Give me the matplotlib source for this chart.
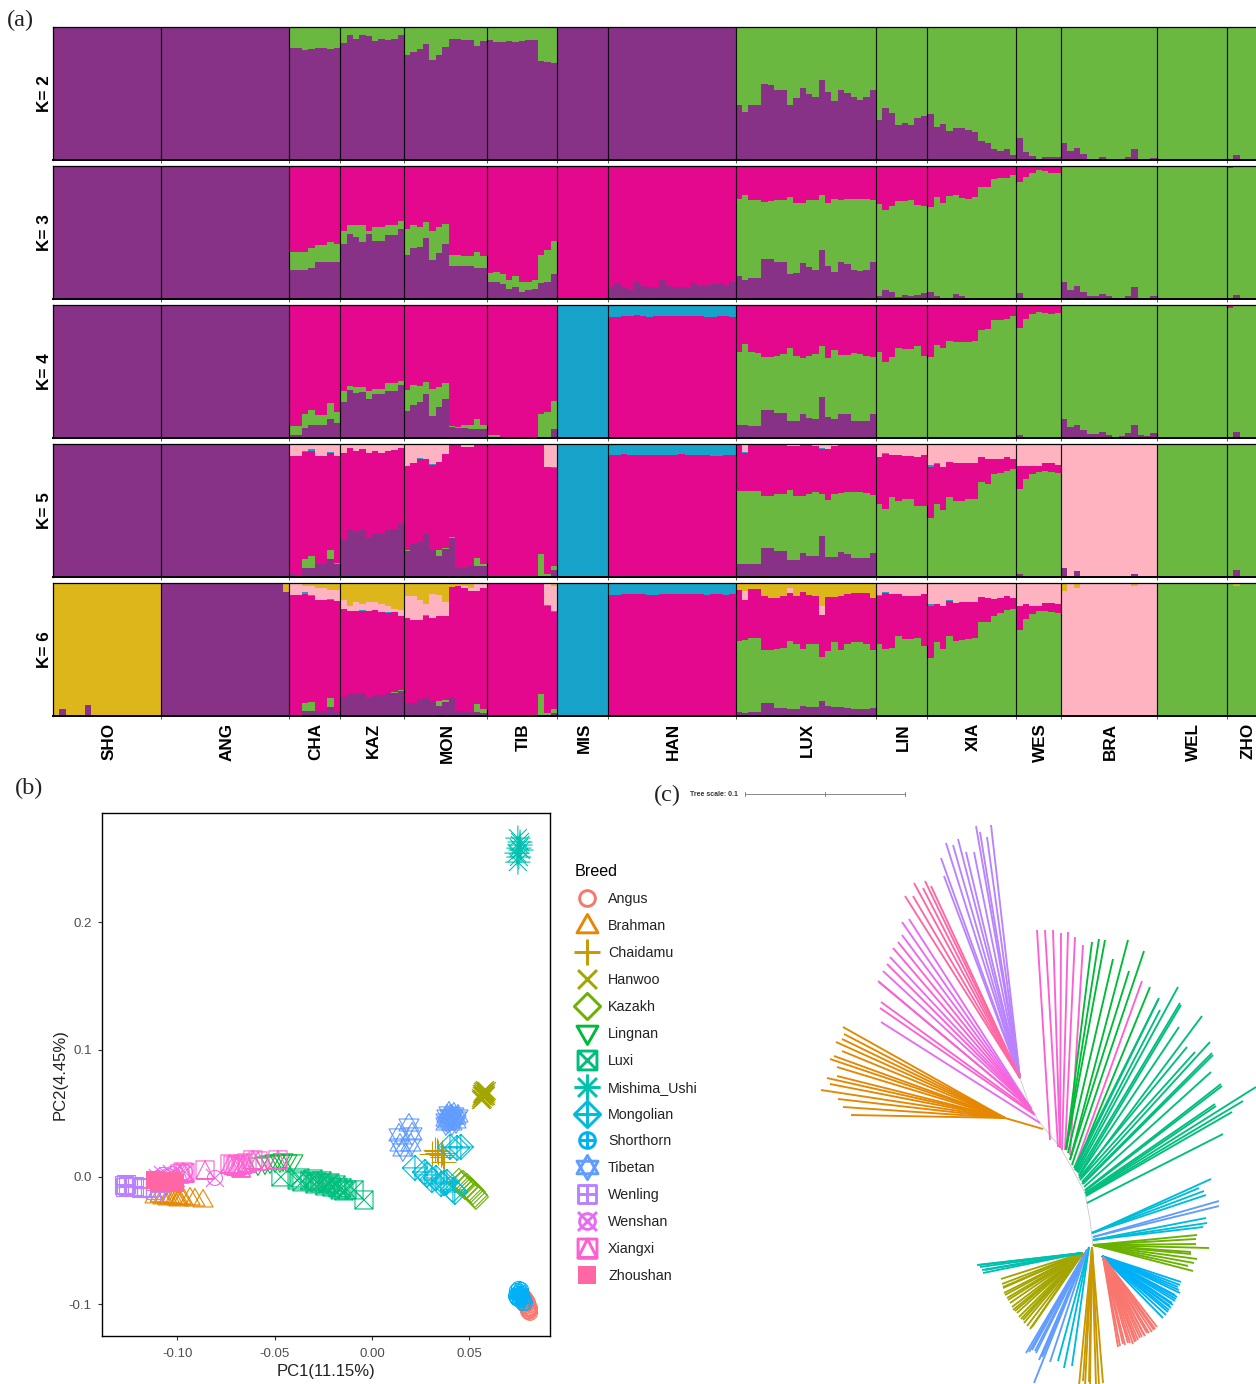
import numpy as np
import matplotlib
matplotlib.use('Agg')
import matplotlib.pyplot as plt
from matplotlib.lines import Line2D
from matplotlib.path import Path
from matplotlib.transforms import ScaledTranslation

plt.rcParams['font.family'] = ['Liberation Sans', 'DejaVu Sans']
plt.rcParams['axes.unicode_minus'] = False

W, H = 1256, 1384

# ---------- (a) admixture, one value per animal, top of each colour layer ----------
groups = ['SHO', 'ANG', 'CHA', 'KAZ', 'MON', 'TIB', 'MIS', 'HAN', 'LUX', 'LIN', 'XIA', 'WES', 'BRA', 'WEL', 'ZHO']
group_sizes = [17, 20, 8, 10, 13, 11, 8, 20, 22, 8, 14, 7, 15, 11, 6]

k2_purple = ([1]*17 + [1]*20
    + [.84, .84, .825, .835, .84, .84, .835, .84]
    + [.88, .94, .91, .94, .935, .895, .91, .905, .91, .94]
    + [.79, .81, .835, .875, .755, .79, .85, .91, .91, .90, .90, .86, .895]
    + [.90, .89, .89, .895, .89, .895, .905, .90, .745, .74, .73]
    + [1]*8 + [1]*19 + [.995]
    + [.41, .36, .41, .41, .57, .565, .53, .53, .41, .465, .54, .495, .47, .60, .51, .44, .53, .505, .47, .45, .47, .53]
    + [.30, .39, .35, .26, .28, .265, .315, .33]
    + [.345, .25, .27, .22, .24, .24, .225, .21, .145, .13, .08, .07, .08, .04]
    + [.165, .06, .03, .005, .02, .02, .02]
    + [.13, .065, .09, .045, .005, .005, .025, .01, .005, .005, .02, .08, .01, .005, .015]
    + [0]*11 + [0, .035, 0, 0, 0, 0])

k3_purple = ([1]*17 + [1]*20
    + [.22, .22, .215, .23, .275, .275, .275, .275]
    + [.415, .485, .465, .43, .49, .435, .435, .48, .48, .53]
    + [.33, .38, .39, .46, .295, .345, .415, .25, .25, .245, .245, .23, .23]
    + [.125, .125, .11, .075, .09, .055, .07, .075, .12, .125, .185]
    + [0]*8
    + [.09, .12, .09, .07, .125, .095, .09, .085, .145, .095, .09, .09, .085, .12, .095, .10, .115, .11, .095, .125]
    + [.17, .145, .16, .16, .30, .30, .275, .275, .185, .195, .27, .24, .215, .37, .245, .20, .275, .26, .22, .21, .22, .275]
    + [.025, .07, .055, .015, .03, .025, .03, .045]
    + [.05, .025, .01, .01, .035, .02, 0, 0, 0, 0, 0, 0, 0, 0]
    + [.045, 0, 0, 0, 0, 0, 0]
    + [.125, .07, .095, .055, .02, .025, .04, .025, .01, .01, .025, .09, .01, 0, .025]
    + [0]*9 + [.01, 0] + [0, .03, 0, 0, 0, 0])
k3_green = ([0]*17 + [0]*20
    + [.35, .35, .35, .38, .405, .405, .425, .41]
    + [.515, .56, .555, .555, .515, .54, .54, .56, .56, .59]
    + [.53, .56, .54, .58, .515, .54, .565, .33, .33, .32, .32, .35, .32]
    + [.195, .2, .185, .145, .17, .125, .125, .145, .33, .37, .435]
    + [0]*8 + [0]*20
    + [.75, .78, .745, .745, .73, .735, .745, .745, .77, .725, .725, .745, .745, .78, .725, .75, .745, .75, .75, .75, .75, .745]
    + [.715, .67, .70, .74, .735, .745, .705, .70]
    + [.69, .77, .72, .775, .785, .76, .75, .77, .845, .845, .90, .91, .91, .935]
    + [.88, .915, .95, .97, .965, .95, .95]
    + [1]*15 + [1]*11 + [.985, 1, 1, 1, 1, 1])

k4_purple = ([1]*17 + [1]*20
    + [.02, .02, .075, .095, .095, .095, .14, .11]
    + [.27, .36, .34, .345, .295, .33, .33, .35, .35, .395]
    + [.20, .25, .27, .33, .165, .23, .29, .08, .075, .075, .07, .07, .07]
    + [.01, .01, 0, 0, 0, 0, 0, 0, 0, 0, .065]
    + [0]*8 + [0]*20
    + [.095, .10, .09, .09, .21, .21, .19, .19, .125, .125, .18, .15, .14, .31, .16, .14, .18, .18, .13, .13, .13, .18]
    + [0, .01, 0, 0, 0, 0, 0, 0]
    + [0]*14 + [.025, 0, 0, 0, 0, 0, 0]
    + [.14, .085, .10, .06, .03, .03, .045, .02, .005, .015, .035, .095, .02, .015, .035]
    + [0]*9 + [.01, 0] + [0, .045, 0, 0, 0, 0])
k4_green = ([0]*17 + [0]*20
    + [.0875, .0875, .18, .21, .17, .17, .26, .195]
    + [.35, .39, .385, .385, .355, .37, .37, .41, .41, .43]
    + [.36, .40, .39, .42, .365, .38, .41, .0875, .08, .10, .10, .14, .10]
    + [.02, .025, 0, 0, 0, .01, 0, 0, .18, .195, .275]
    + [0]*8 + [0]*20
    + [.645, .71, .645, .64, .61, .61, .62, .63, .68, .62, .60, .62, .63, .69, .60, .66, .625, .625, .64, .63, .62, .61]
    + [.65, .575, .61, .68, .67, .67, .69, .62]
    + [.61, .70, .68, .73, .72, .72, .72, .73, .815, .82, .89, .89, .895, .92]
    + [.83, .895, .93, .95, .94, .93, .94]
    + [1]*15 + [1]*11 + [.98, 1, 1, 1, 1, 1])
k4_magenta = ([0]*17 + [0]*20
    + [1, 1, .995, .995, 1, 1, .99, 1]
    + [1]*10 + [1]*13 + [1]*11 + [0]*8
    + [.9075, .91, .92, .92, .9225, .915, .9125, .915, .915, .915, .9175, .9175, .92, .915, .915, .9125, .9125, .915, .9175, .91]
    + [1]*22 + [1]*8 + [1]*14 + [1]*7 + [0]*15 + [0]*11 + [1, 0, 0, 0, 0, 0])

k5_purple = ([1]*17 + [1]*20
    + [.02, 0, .07, .07, .095, .095, .135, .10]
    + [.275, .36, .34, .35, .29, .325, .325, .35, .36, .405]
    + [.195, .245, .26, .325, .205, .16, .21, .295, .07, .07, .08, .08, .08]
    + [0]*10 + [.05]
    + [0]*8 + [0]*20
    + [.10, .10, .10, .10, .215, .215, .195, .195, .125, .125, .18, .16, .155, .31, .15, .15, .185, .175, .14, .14, .14, .18]
    + [0, .005, 0, 0, 0, 0, 0, 0]
    + [0]*14 + [.025, 0, 0, 0, 0, 0, 0]
    + [.065, 0, .045, 0, 0, 0, 0, 0, 0, 0, 0, .025, 0, 0, 0]
    + [0]*11 + [0, .05, 0, 0, 0, 0])
k5_green = ([0]*17 + [0]*20
    + [0, 0, .135, .155, .095, .095, .205, .105]
    + [0]*10
    + [.20, .245, .265, .325, .205, .2, .215, .30, .07, .07, .08, .14, .10]
    + [.005, 0, 0, 0, 0, 0, 0, 0, .17, .02, .085]
    + [0]*8 + [0]*20
    + [.645, .645, .645, .645, .61, .61, .627, .627, .657, .61, .61, .627, .64, .627, .577, .627, .635, .64, .64, .64, .635, .62]
    + [.55, .515, .60, .575, .585, .585, .535, .535]
    + [.44, .55, .505, .60, .57, .575, .585, .59, .715, .70, .775, .785, .80, .815]
    + [.665, .735, .775, .79, .795, .79, .785]
    + [0]*15 + [1]*11 + [.99, 1, 1, 1, 1, 1])
k5_magenta = ([0]*17 + [0]*20
    + [.91, .91, .94, .95, .91, .91, .93, .91]
    + [.93, .97, .95, .96, .935, .95, .935, .945, .955, .97]
    + [.835, .855, .885, .89, .84, .865, .925, .995, .995, .98, .98, 1, 1]
    + [.99, .99, 1, 1, 1, 1, 1, 1, .99, .825, .82]
    + [0]*8
    + [.915, .915, .925, .92, .92, .915, .92, .915, .915, .92, .92, .925, .92, .92, .915, .915, .91, .91, .915, .915]
    + [1, .93, 1, 1, 1, 1, 1, 1, .985, .985, 1, 1, .985, .965, .965, .985, 1, 1, 1, 1, 1, 1]
    + [.90, .925, .915, .915, .91, .91, .905, .915]
    + [.83, .85, .825, .865, .855, .86, .855, .855, .905, .89, .885, .89, .905, .89]
    + [.835, .835, .835, .835, .855, .855, .84]
    + [0]*15 + [0]*11 + [1, 0, 0, 0, 0, 0])
k5_blue = ([0]*17 + [0]*20
    + [0, 0, .95, .96, 0, 0, .94, 0]
    + [0]*10
    + [0, 0, .895, 0, .85, 0, 0, 0, 0, 0, 0, 0, 0]
    + [1, 1, 0, 0, 0, 0, 0, 0, 1, .83, .825]
    + [1]*8 + [1]*20
    + [0, .94, 0, 0, 0, 0, 0, 0, 0, 0, 0, 0, 0, .97, 0, 0, 0, 0, 0, 0, 0, 0]
    + [.905, .93, 0, 0, 0, 0, 0, .92]
    + [.84, .855, 0, 0, 0, 0, 0, 0, 0, 0, 0, 0, 0, 0]
    + [0]*7 + [0]*15 + [0]*11 + [0]*6)

k6_purple = ([0, .05, 0, 0, 0, .08] + [0]*11
    + [1]*12 + [.995] + [1]*6 + [.93]
    + [0, 0, .04, .04, .04, .04, .07, .04]
    + [.14, .17, .17, .175, .135, .16, .16, .175, .175, .19]
    + [.095, .10, .125, .14, .115, .075, .105, .14, .04, .04, .03, .03, .025]
    + [0]*10 + [.025]
    + [0]*8 + [0]*20
    + [.03, .025, .03, .03, .10, .10, .06, .06, .05, .055, .075, .07, .07, .115, .075, .07, .065, .06, .055, .055, .05, .06]
    + [0]*8 + [0]*14 + [0]*7 + [0]*15 + [0]*11 + [0, .01, 0, 0, 0, 0])
k6_green = ([0]*17 + [0]*20
    + [0, 0, .10, .105, .04, .04, .135, .04]
    + [0]*8 + [.18, .195]
    + [0, 0, 0, 0, 0, .11, .12, .145, 0, 0, 0, .09, .05]
    + [0, .005, 0, 0, 0, 0, 0, 0, .165, .02, .05]
    + [0]*8 + [0]*20
    + [.565, .57, .585, .585, .495, .495, .505, .51, .565, .54, .505, .54, .54, .445, .49, .555, .495, .54, .555, .56, .54, .495]
    + [.54, .505, .515, .605, .58, .58, .585, .53]
    + [.435, .555, .505, .60, .565, .57, .58, .585, .705, .705, .755, .775, .795, .805]
    + [.645, .73, .77, .79, .79, .78, .775]
    + [0]*15 + [1]*11 + [.99, .98, 1, 1, 1, 1])
k6_magenta = ([0]*17 + [0]*20
    + [.91, .91, .92, .90, .875, .87, .87, .865]
    + [.805, .79, .79, .79, .79, .795, .78, .775, .78, .755]
    + [.74, .72, .725, .755, .74, .75, .75, .97, .98, .965, .94, .94, .965]
    + [.99, .99, .995, .995, .995, .99, .995, .99, .99, .825, .78]
    + [0]*8
    + [.907, .91, .92, .92, .92, .915, .91, .91, .915, .915, .92, .92, .92, .915, .915, .91, .915, .915, .91, .915]
    + [.95, .87, .955, .955, .90, .885, .885, .90, .925, .905, .93, .91, .905, .76, .895, .895, .905, .915, .925, .925, .925, .885]
    + [.905, .925, .92, .915, .90, .90, .90, .915]
    + [.83, .84, .825, .865, .85, .855, .855, .86, .895, .885, .88, .89, .90, .89]
    + [.825, .84, .825, .83, .85, .85, .84]
    + [0]*15 + [0]*11 + [1, 0, 0, 0, 0, 0])
k6_blue = ([0]*17 + [0]*20
    + [0, 0, .93, .91, 0, 0, .88, 0]
    + [0, 0, 0, .795, 0, 0, 0, .785, .785, 0]
    + [0, 0, 0, .76, 0, .755, 0, 0, 0, 0, 0, 0, 0]
    + [0, 0, 0, 0, 0, 0, 0, 0, 0, .835, .79]
    + [1]*8 + [1]*20
    + [0, .875, 0, 0, 0, 0, 0, 0, 0, 0, 0, 0, 0, 0, 0, 0, 0, 0, 0, 0, 0, 0]
    + [.91, .93, 0, 0, 0, 0, 0, .92]
    + [.84, .845, 0, .87, 0, 0, 0, 0, 0, 0, 0, 0, 0, 0]
    + [0]*7 + [0]*15 + [0]*11 + [0]*6)
k6_pink = ([0]*17 + [0]*20
    + [1, 1, .975, .975, .965, .965, .95, .95]
    + [.875, .825, .855, .845, .855, .855, .84, .83, .805, .795]
    + [.905, .90, .875, .84, .92, .91, .855, .97, .98, .98, .965, .995, .995]
    + [0, 0, 0, 0, 0, 0, 0, 0, 0, .99, .975]
    + [0]*8 + [0]*20
    + [0, .94, 0, 0, 0, 0, 0, 0, .96, 0, 0, 0, 0, .825, 0, 0, 0, 0, 0, 0, 0, 0]
    + [1]*8 + [1]*14 + [1]*7
    + [.94, 1, .96, 1, 1, 1, 1, 1, 1, 1, 1, .975, 1, 1, 1]
    + [0]*11 + [0]*6)

PURPLE, GREEN, MAGENTA, BLUE, PINK, GOLD = '#873287', '#6BB840', '#E4088F', '#18A3CB', '#FFB2C0', '#DCB61B'

# each row: label, colour left on top, then (colour, tops) painted downwards
k_rows = [
    ('K= 2', GREEN, [(PURPLE, k2_purple)]),
    ('K= 3', MAGENTA, [(GREEN, k3_green), (PURPLE, k3_purple)]),
    ('K= 4', BLUE, [(MAGENTA, k4_magenta), (GREEN, k4_green), (PURPLE, k4_purple)]),
    ('K= 5', PINK, [(BLUE, k5_blue), (MAGENTA, k5_magenta), (GREEN, k5_green), (PURPLE, k5_purple)]),
    ('K= 6', GOLD, [(PINK, k6_pink), (BLUE, k6_blue), (MAGENTA, k6_magenta), (GREEN, k6_green), (PURPLE, k6_purple)]),
]
k_tops = [27, 166, 305, 444, 583]
k_height = 133

# ---------- (b) PCA ----------
pc_angus = ([.0781, .0786, .0791, .0786, .0791, .0797, .0802, .0797, .0802, .0807, .0812, .0807, .0807, .0812, .0802, .0791, .0797, .0786, .0802, .0812],
            [-.0966, -.0982, -.0990, -.1005, -.1013, -.0998, -.1013, -.1029, -.1037, -.1037, -.1045, -.1053, -.1060, -.1029, -.0990, -.0966, -.0974, -.0950, -.1053, -.1068])
pc_brahman = ([-.1115, -.1089, -.1074, -.1064, -.1048, -.1038, -.1028, -.1012, -.1002, -.0992, -.0981, -.0971, -.0935, -.0910, -.0868],
              [-.0149, -.0141, -.0157, -.0149, -.0165, -.0157, -.0149, -.0157, -.0165, -.0173, -.0157, -.0165, -.0165, -.0173, -.0181])
pc_chaidamu = ([.0324, .0334, .0355, .0365, .0308, .0339, .0360, .0370],
               [.0212, .0204, .0173, .0157, .0181, .0189, .0189, .0118])
pc_hanwoo = ([.0560, .0565, .0570, .0576, .0581, .0586, .0591, .0565, .0576, .0586, .0570, .0581, .0560, .0570, .0576, .0581, .0586, .0570, .0576, .0565],
             [.0621, .0636, .0652, .0660, .0668, .0668, .0676, .0652, .0644, .0652, .0636, .0636, .0605, .0613, .0676, .0683, .0636, .0668, .0628, .0605])
pc_kazakh = ([.0447, .0457, .0468, .0478, .0488, .0498, .0509, .0519, .0529, .0534],
             [-.0031, -.0055, -.0047, -.0079, -.0071, -.0094, -.0102, -.0118, -.0141, -.0157])
pc_lingnan = ([-.0586, -.0550, -.0524, -.0498, -.0473, -.0457, -.0437, -.0406],
              [.0094, .0102, .0110, .0118, .0118, .0126, .0118, .0118])
pc_luxi = ([-.0468, -.0385, -.0370, -.0360, -.0319, -.0303, -.0293, -.0283, -.0267, -.0257, -.0242, -.0226, -.0216, -.0206, -.0185, -.0175, -.0164, -.0154, -.0144, -.0128, -.0092, -.0041],
           [0, -.0024, -.0008, -.0039, -.0031, -.0016, -.0055, -.0039, -.0047, -.0031, -.0071, -.0055, -.0047, -.0079, -.0063, -.0086, -.0102, -.0086, -.0110, -.0102, -.0102, -.0181])
pc_mishima = ([.0750, .0761, .0755, .0766, .0745, .0755, .0750, .0761],
              [.2663, .2632, .2584, .2569, .2545, .2514, .2474, .2608])
pc_mongolian = ([.0221, .0272, .0283, .0308, .0329, .0355, .0370, .0385, .0416, .0426, .0401, .0437, .0457],
                [.0071, .0039, .0016, -.0024, -.0008, -.0055, -.0047, -.0039, -.0102, -.0118, .0236, .0228, .0236])
pc_shorthorn = ([.0745, .0750, .0740, .0755, .0761, .0766, .0755, .0745, .0766, .0771, .0761, .0771, .0776, .0786, .0781, .0761, .0750],
                [-.0896, -.0919, -.0935, -.0880, -.0903, -.0888, -.0943, -.0950, -.0935, -.0919, -.0966, -.0958, -.0990, -.0990, -.0966, -.0927, -.0958])
pc_tibetan = ([.0190, .0139, .0206, .0159, .0144, .0200, .0385, .0401, .0416, .0432, .0411, .0396, .0380, .0442, .0411, .0390, .0421, .0401, .0380, .0432],
              [.0408, .0330, .0338, .0212, .0251, .0251, .0479, .0448, .0463, .0432, .0416, .0503, .0416, .0479, .0479, .0432, .0495, .0479, .0448, .0463])
pc_wenling = ([-.1274, -.1264, -.1269, -.1254, -.1223, -.1208, -.1187, -.1161, -.1141, -.1115, -.1089],
              [-.0063, -.0055, -.0079, -.0071, -.0071, -.0079, -.0086, -.0086, -.0079, -.0102, -.0118])
pc_wenshan = ([-.1100, -.1074, -.1048, -.1028, -.1007, -.0961, -.0807],
              [-.0008, .0016, .0008, .0024, -.0008, .0039, -.0008])
pc_xiangxi = ([-.0987, -.0971, -.0961, -.0858, -.0730, -.0714, -.0699, -.0689, -.0673, -.0663, -.0642, -.0612, -.0586, -.0483],
              [.0024, .0039, .0031, .0055, .0102, .0094, .0086, .0094, .0071, .0102, .0110, .0134, .0126, .0134])
pc_zhoushan = ([-.1115, -.1094, -.1074, -.1053, -.1033, -.1012],
               [-.0024, -.0047, -.0031, -.0039, -.0031, -.0047])

breeds = ['Angus', 'Brahman', 'Chaidamu', 'Hanwoo', 'Kazakh', 'Lingnan', 'Luxi', 'Mishima_Ushi',
          'Mongolian', 'Shorthorn', 'Tibetan', 'Wenling', 'Wenshan', 'Xiangxi', 'Zhoushan']
breed_colors = ['#F8766D', '#E58700', '#C99800', '#A3A500', '#6BB100', '#00BA38', '#00BF7D', '#00C0AF',
                '#00BCD8', '#00B0F6', '#619CFF', '#B983FF', '#E76BF3', '#FD61D1', '#FF67A4']
breed_points = [pc_angus, pc_brahman, pc_chaidamu, pc_hanwoo, pc_kazakh, pc_lingnan, pc_luxi, pc_mishima,
                pc_mongolian, pc_shorthorn, pc_tibetan, pc_wenling, pc_wenshan, pc_xiangxi, pc_zhoushan]


# ggplot style point shapes, made from plain pieces
def closed(pts):
    return Path(pts + [pts[0]], [Path.MOVETO] + [Path.LINETO]*(len(pts)-1) + [Path.CLOSEPOLY])

def segs(*pairs):
    v, c = [], []
    for a, b in pairs:
        v += [a, b]
        c += [Path.MOVETO, Path.LINETO]
    return Path(v, c)

def circle(r):
    p = Path.unit_circle()
    return Path(p.vertices*r, p.codes)

sq = closed([(-9, -9), (9, -9), (9, 9), (-9, 9)])
dia = closed([(0, 12.5), (12.5, 0), (0, -12.5), (-12.5, 0)])
tri_up = closed([(-10, -7), (10, -7), (0, 10.5)])
tri_dn = closed([(-10, 7), (10, 7), (0, -10.5)])
plus = segs(((-12.5, 0), (12.5, 0)), ((0, -12.5), (0, 12.5)))
cross = segs(((-9, -9), (9, 9)), ((-9, 9), (9, -9)))
both = Path.make_compound_path
breed_shapes = [
    circle(7.5), tri_up, plus, cross, dia, tri_dn, both(sq, cross), both(plus, cross),
    both(dia, plus), both(circle(7.5), segs(((-7.5, 0), (7.5, 0)), ((0, -7.5), (0, 7.5)))),
    both(closed([(-10, -6), (10, -6), (0, 11.5)]), closed([(-10, 6), (10, 6), (0, -11.5)])),
    both(sq, segs(((-9, 0), (9, 0)), ((0, -9), (0, 9)))),
    both(circle(7.5), cross),
    both(sq, closed([(-9, -9), (0, 9), (9, -9)])),
    sq,
]

# ---------- (c) tree, branch base and tip per clade ----------
tree_arc = [(1020, 1078), (1030, 1107), (1040, 1123), (1060, 1147), (1073, 1170), (1085, 1193), (1090, 1220), (1093, 1245)]
tree_clades = [
    ('#E58700', [(1005, 1118)], [(843, 1027), (844, 1034), (842, 1039), (836, 1042), (842, 1051), (834, 1056), (830, 1059), (837, 1067),
                                 (827, 1078), (837, 1076), (830, 1084), (821, 1090), (838, 1099), (843, 1107), (851, 1115)]),
    ('#E58700', [(1043, 1129)], [(1005, 1118)]),
    ('#B983FF', [(1020, 1078)], [(976, 826), (980, 832), (991, 825), (987, 837), (958, 839), (946, 843), (953, 845), (966, 852), (974, 852), (941, 858), (944, 876)]),
    ('#E76BF3', [(1030, 1107), (1030, 1107), (1030, 1107), (1031, 1108), (1031, 1108), (1032, 1110), (1040, 1123)],
     [(902, 922), (909, 919), (902, 935), (890, 957), (883, 971), (878, 981), (881, 1022)]),
    ('#FD61D1', [(1030, 1107), (1030, 1107), (1031, 1108), (1032, 1110), (1034, 1113), (1035, 1115)],
     [(898, 942), (893, 948), (887, 964), (879, 982), (881, 1002), (880, 1008)]),
    ('#FF67A4', [(1020, 1078)], [(914, 883), (925, 881), (931, 886), (923, 888), (905, 896), (913, 896)]),
    ('#FD61D1', [(1050, 1140), (1058, 1147), (1060, 1147), (1060, 1148), (1062, 1150), (1065, 1150), (1070, 1155), (1075, 1167)],
     [(1037, 930), (1045, 930), (1053, 930), (1061, 933), (1068, 932), (1075, 937), (1083, 945), (1142, 981)]),
    ('#00BA38', [(1066, 1150), (1066, 1150), (1066, 1150), (1070, 1160), (1068, 1153), (1070, 1160), (1072, 1165), (1075, 1170)],
     [(1092, 942), (1099, 939), (1105, 940), (1128, 940), (1113, 959), (1129, 971), (1144, 951), (1150, 987)]),
    ('#00BF7D', [(1074, 1168), (1075, 1170), (1076, 1171), (1077, 1172), (1078, 1173), (1079, 1175), (1079, 1176), (1081, 1178), (1079, 1178), (1080, 1180), (1082, 1182),
                 (1082, 1184), (1083, 1184), (1084, 1187), (1085, 1190), (1085, 1191), (1085, 1193), (1086, 1194), (1086, 1195), (1086, 1196), (1086, 1194), (1087, 1203)],
     [(1159, 998), (1158, 1000), (1160, 1010), (1178, 987), (1180, 1003), (1181, 1005), (1179, 1027), (1202, 1016), (1187, 1047), (1195, 1052), (1210, 1042),
      (1212, 1053), (1213, 1055), (1211, 1072), (1221, 1084), (1222, 1086), (1215, 1104), (1216, 1106), (1243, 1101), (1232, 1112), (1256, 1087), (1223, 1134)]),
    ('#00BCD8', [(1092, 1233)], [(1211, 1179), (1199, 1188), (1204, 1191), (1206, 1195)]),
    ('#00BCD8', [(1093, 1240)], [(1206, 1218), (1207, 1223), (1203, 1227)]),
    ('#00BCD8', [(1089, 1247)], [(1058, 1361), (1064, 1368), (1072, 1366)]),
    ('#619CFF', [(1093, 1237)], [(1219, 1201), (1219, 1206)]),
    ('#619CFF', [(1087, 1250)], [(1026, 1353), (1032, 1350), (1035, 1351), (1039, 1360), (1043, 1355), (1050, 1362), (1034, 1383), (1029, 1352), (1036, 1353), (1042, 1357)]),
    ('#6BB100', [(1093, 1245)], [(1197, 1235), (1196, 1239), (1196, 1244), (1209, 1248), (1191, 1252), (1191, 1254), (1197, 1259), (1194, 1263), (1188, 1266), (1193, 1271)]),
    ('#00B0F6', [(1102, 1256)], [(1181, 1282), (1178, 1287), (1180, 1293), (1177, 1297), (1175, 1301), (1172, 1303), (1171, 1308), (1168, 1312), (1163, 1318),
                                 (1179, 1290), (1176, 1299), (1173, 1305), (1169, 1310), (1166, 1315), (1180, 1285), (1175, 1295), (1170, 1306)]),
    ('#F8766D', [(1103, 1257)], [(1118, 1347), (1123, 1344), (1128, 1343), (1133, 1344), (1140, 1338), (1147, 1333), (1152, 1332), (1157, 1327), (1120, 1346), (1125, 1345),
                                 (1130, 1343), (1135, 1342), (1138, 1340), (1142, 1337), (1144, 1335), (1149, 1333), (1154, 1330), (1155, 1329), (1145, 1336), (1136, 1341)]),
    ('#C99800', [(1092, 1247)], [(1079, 1386), (1083, 1381), (1089, 1382), (1096, 1386), (1099, 1386), (1103, 1383), (1090, 1386), (1085, 1386)]),
    ('#A3A500', [(1083, 1253)], [(1001, 1279), (1002, 1284), (1003, 1288), (1004, 1293), (1007, 1298), (1010, 1303), (1013, 1310), (1019, 1317), (1024, 1323), (1030, 1329),
                                 (1032, 1327), (1023, 1320), (1017, 1313), (1008, 1300), (1003, 1287), (1005, 1295), (1012, 1307), (1015, 1311), (1021, 1319), (1027, 1326)]),
    ('#00C0AF', [(1082, 1253)], [(977, 1265), (980, 1267), (982, 1270), (983, 1273), (979, 1265), (985, 1270)]),
]


def px_axes(left, top, right, bottom):
    return fig.add_axes([left/W, 1-bottom/H, (right-left)/W, (bottom-top)/H])


fig = plt.figure(figsize=(W/100, H/100), dpi=100)

edges = np.arange(sum(group_sizes)+1)
bounds = np.cumsum(group_sizes)
centers = bounds - np.array(group_sizes)/2

for i, (label, top_color, layers) in enumerate(k_rows):
    ax = px_axes(53, k_tops[i], 1256, k_tops[i]+k_height)
    ax.stairs(np.ones(len(edges)-1), edges, baseline=0, fill=True, color=top_color, lw=0)
    for color, tops in layers:
        ax.stairs(tops, edges, baseline=0, fill=True, color=color, lw=0)
    for b in bounds[:-1]:
        ax.axvline(b, color='black', lw=0.85, alpha=0.9)
    ax.set_xlim(0, (1256-53)/(1174/184))
    ax.set_ylim(0, 1)
    ax.set_yticks([])
    ax.set_ylabel(label, fontweight='bold', fontsize=12.3, labelpad=1)
    ax.spines['right'].set_visible(False)
    for s in ['top', 'left']:
        ax.spines[s].set_linewidth(0.9)
    ax.spines['bottom'].set_linewidth(1.4)
    ax.set_xticks(bounds[:-1], minor=True)
    ax.tick_params(axis='x', which='minor', length=2, width=0.7, color='#555555')
    ax.tick_params(axis='x', which='major', length=0)
    if i == len(k_rows)-1:
        ax.set_xticks(centers, groups, rotation=90, fontweight='bold', fontsize=12.3, va='top', ha='center')
        ax.tick_params(axis='x', which='major', pad=5)
        nudge = ScaledTranslation(1.5/100, 0, fig.dpi_scale_trans)
        for tl in ax.get_xticklabels():
            tl.set_transform(tl.get_transform() + nudge)
    else:
        ax.set_xticks([])

# PCA
ax_b = px_axes(101.5, 813, 550, 1336)
handles = []
for name, color, shape, pts in zip(breeds, breed_colors, breed_shapes, breed_points):
    ms = 2*np.max(np.abs(shape.vertices))*0.72
    if name == 'Zhoushan':
        ax_b.scatter(pts[0], pts[1], marker=shape, s=ms**2, color=color, linewidths=0, zorder=3)
        handles.append(Line2D([], [], ls='', marker=shape, ms=ms, color=color, mew=0))
    else:
        ax_b.scatter(pts[0], pts[1], marker=shape, s=ms**2, facecolors='none', edgecolors=color, linewidths=0.8, zorder=3)
        handles.append(Line2D([], [], ls='', marker=shape, ms=ms*1.05, mfc='none', mec=color, mew=2.1))
ax_b.set_xlim(-0.139, 0.0915)
ax_b.set_ylim(-0.125, 0.286)
ax_b.set_xticks([-0.10, -0.05, 0, 0.05], ['-0.10', '-0.05', '0.00', '0.05'])
ax_b.set_yticks([-0.1, 0, 0.1, 0.2], ['-0.1', '0.0', '0.1', '0.2'])
ax_b.tick_params(length=3, width=0.8, labelsize=9.5, labelcolor='#4D4D4D', color='#333333')
ax_b.tick_params(axis='x', pad=5.5)
ax_b.tick_params(axis='y', pad=4)
ax_b.set_xlabel('PC1(11.15%)', fontsize=12, color='#222222', labelpad=3)
ax_b.set_ylabel('PC2(4.45%)', fontsize=12, color='#222222', labelpad=1)
for s in ax_b.spines.values():
    s.set_linewidth(1)

leg = ax_b.legend(handles, breeds, title='Breed', loc='upper left', bbox_to_anchor=(575/W, 1-864/H),
                  bbox_transform=fig.transFigure, frameon=False, fontsize=10.3, title_fontsize=11.6,
                  borderpad=0, borderaxespad=0, labelspacing=0.905, handlelength=1.68, handletextpad=0.63,
                  alignment='left')
for t in leg.get_texts():
    t.set_color('#222222')

# tree
ax_c = fig.add_axes([0, 0, 1, 1], facecolor='none', zorder=-1)
ax_c.set_xlim(0, W)
ax_c.set_ylim(H, 0)
ax_c.axis('off')
ax_c.plot(*zip(*tree_arc), color='#C8C8C8', lw=0.6)
for color, bases, tips in tree_clades:
    for j, tip in enumerate(tips):
        base = bases[j % len(bases)]
        ax_c.plot([base[0], tip[0]], [base[1], tip[1]], color=color, lw=1.35, solid_capstyle='butt')

# scale bar of the tree
ax_c.plot([745, 905], [794, 794], color='#777777', lw=0.6)
for tick in [745, 825, 905]:
    ax_c.plot([tick, tick], [792, 796], color='#777777', lw=0.6)
ax_c.text(690, 795, 'Tree scale: 0.1', fontsize=5, fontweight='bold', va='center', ha='left', color='#333333')

for txt, x, y in [('(a)', 7, 20), ('(b)', 15, 788), ('(c)', 654, 795)]:
    fig.text(x/W, 1-y/H, txt, family='Liberation Serif', fontsize=17.5, va='center', ha='left', color='#222222')

fig.savefig('out.png', dpi=100)
